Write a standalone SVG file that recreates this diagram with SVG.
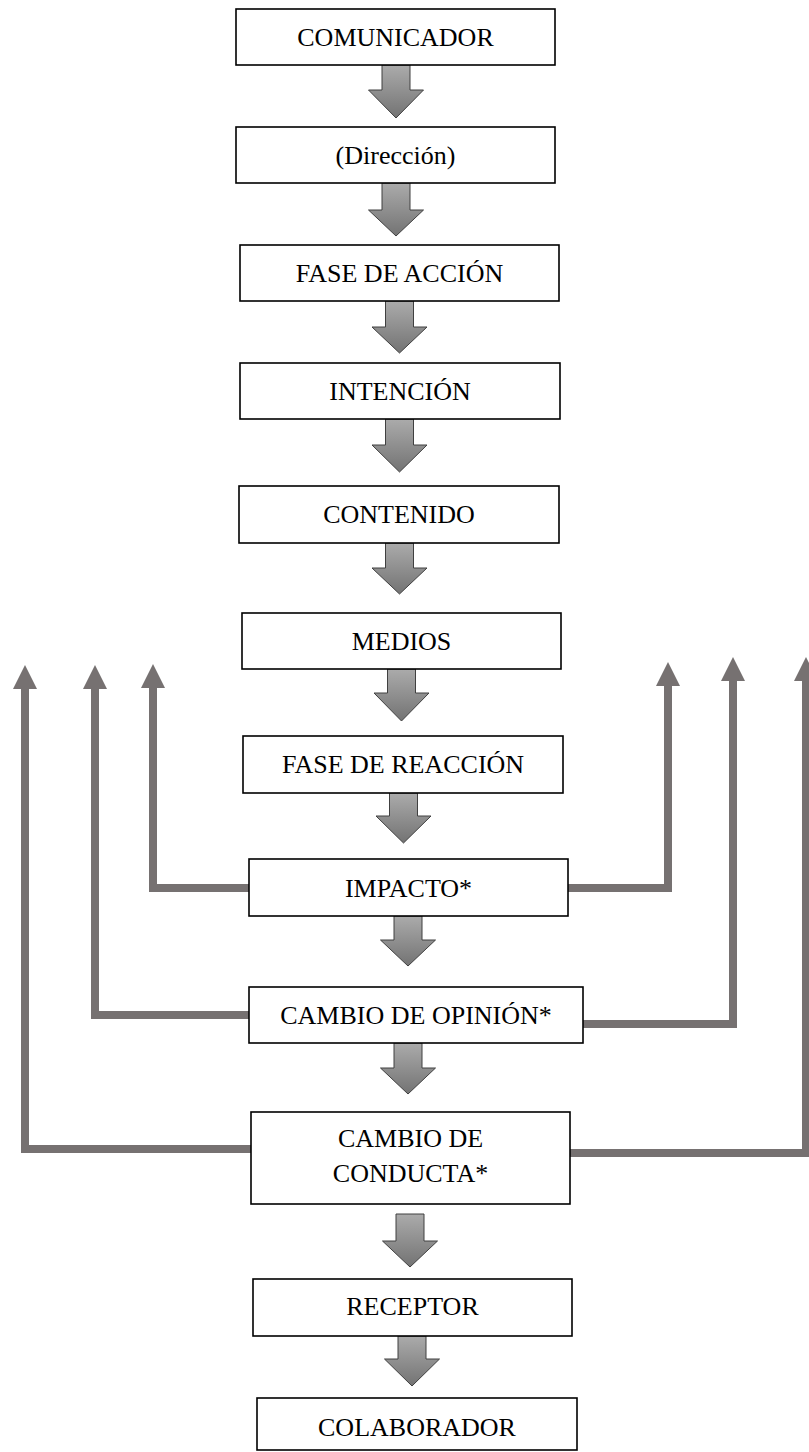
<svg xmlns="http://www.w3.org/2000/svg" width="809" height="1452" viewBox="0 0 809 1452">
<defs>
<linearGradient id="ga" x1="0" y1="0" x2="0" y2="1">
<stop offset="0" stop-color="#ababab"/>
<stop offset="1" stop-color="#737373"/>
</linearGradient>
<marker id="fh" viewBox="0 0 24 24" refX="0" refY="12" markerWidth="24" markerHeight="24" markerUnits="userSpaceOnUse" orient="auto">
<path d="M0,0 L24,12 L0,24 z" fill="#767171"/>
</marker>
<style>
.box{fill:#fff;stroke:#000;stroke-width:1.6}
.lbl{font-family:"Liberation Serif","Times New Roman",serif;font-size:26px;fill:#000;text-anchor:middle}
.blk{fill:url(#ga);stroke:#404040;stroke-width:1}
.fb{fill:none;stroke:#767171;stroke-width:8;stroke-linejoin:miter;stroke-linecap:butt;marker-end:url(#fh)}
</style>
</defs>
<rect width="809" height="1452" fill="#fff"/>
<g id="connectors">
<polygon class="blk" points="382,65 410,65 410,90 423.5,90 396,118 368.5,90 382,90"/>
<polygon class="blk" points="382,183 410,183 410,210 423.5,210 396,236 368.5,210 382,210"/>
<polygon class="blk" points="385.5,301 413.5,301 413.5,327 427,327 399.5,353 372,327 385.5,327"/>
<polygon class="blk" points="385.5,419 413.5,419 413.5,445 427,445 399.5,472 372,445 385.5,445"/>
<polygon class="blk" points="385.5,543 413.5,543 413.5,568 427,568 399.5,594 372,568 385.5,568"/>
<polygon class="blk" points="387.5,669 415.5,669 415.5,693 429,693 401.5,721 374,693 387.5,693"/>
<polygon class="blk" points="389.5,793 417.5,793 417.5,816 431,816 403.5,843 376,816 389.5,816"/>
<polygon class="blk" points="394,916 422,916 422,940 435.5,940 408,966 380.5,940 394,940"/>
<polygon class="blk" points="394,1043 422,1043 422,1068 435.5,1068 408,1094 380.5,1068 394,1068"/>
<polygon class="blk" points="396,1214 424,1214 424,1241 437.5,1241 410,1267 382.5,1241 396,1241"/>
<polygon class="blk" points="398,1336 426,1336 426,1359 439.5,1359 412,1386 384.5,1359 398,1359"/>
<path class="fb" d="M249,888 H153 V688"/>
<path class="fb" d="M249,1015 H95 V689"/>
<path class="fb" d="M251,1149 H25 V689"/>
<path class="fb" d="M568,888 H668 V686"/>
<path class="fb" d="M583,1024 H733 V681"/>
<path class="fb" d="M570,1153 H806 V681"/>
</g>
<g id="n1"><rect class="box" x="236" y="9" width="319" height="56"/><text class="lbl" x="395.5" y="46">COMUNICADOR</text></g>
<g id="n2"><rect class="box" x="236" y="127" width="319" height="56"/><text class="lbl" x="395.5" y="164">(Dirección)</text></g>
<g id="n3"><rect class="box" x="240" y="245" width="319" height="56"/><text class="lbl" x="399.5" y="282">FASE DE ACCIÓN</text></g>
<g id="n4"><rect class="box" x="240" y="363" width="320" height="56"/><text class="lbl" x="400" y="400">INTENCIÓN</text></g>
<g id="n5"><rect class="box" x="239" y="486" width="320" height="57"/><text class="lbl" x="399" y="523">CONTENIDO</text></g>
<g id="n6"><rect class="box" x="242" y="613" width="319" height="56"/><text class="lbl" x="401.5" y="650">MEDIOS</text></g>
<g id="n7"><rect class="box" x="243" y="736" width="320" height="57"/><text class="lbl" x="403" y="773">FASE DE REACCIÓN</text></g>
<g id="n8"><rect class="box" x="249" y="859" width="319" height="57"/><text class="lbl" x="408.5" y="897">IMPACTO*</text></g>
<g id="n9"><rect class="box" x="249" y="987" width="334" height="56"/><text class="lbl" x="416" y="1024">CAMBIO DE OPINIÓN*</text></g>
<g id="n10"><rect class="box" x="251" y="1112" width="319" height="92"/><text class="lbl" x="410.5" y="1147">CAMBIO DE</text><text class="lbl" x="410.5" y="1182">CONDUCTA*</text></g>
<g id="n11"><rect class="box" x="253" y="1279" width="319" height="57"/><text class="lbl" x="412.5" y="1315">RECEPTOR</text></g>
<g id="n12"><rect class="box" x="257" y="1398" width="320" height="52"/><text class="lbl" x="417" y="1436">COLABORADOR</text></g>
</svg>
